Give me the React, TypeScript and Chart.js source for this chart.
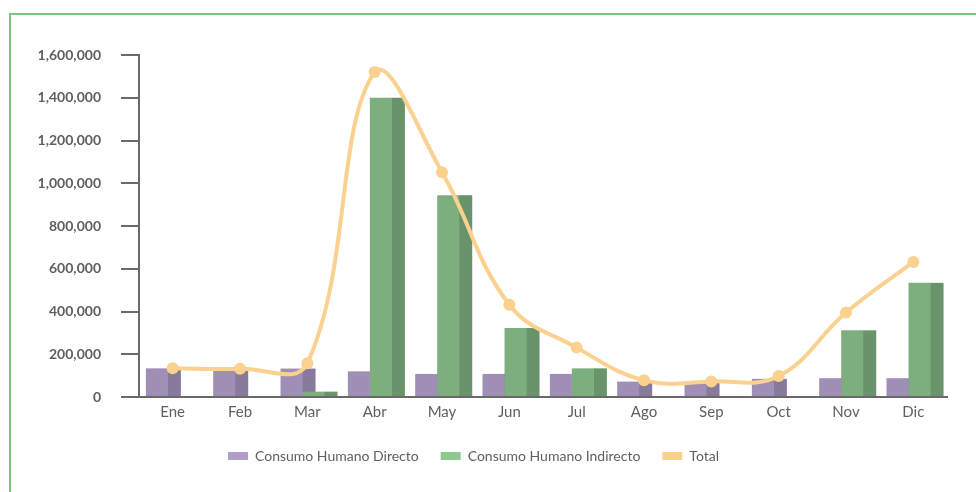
import React, { useEffect, useRef } from "react";
import { Chart, registerables } from "chart.js";

Chart.register(...registerables);

const months = ["Ene", "Feb", "Mar", "Abr", "May", "Jun", "Jul", "Ago", "Sep", "Oct", "Nov", "Dic"];
const directo = [134000, 132000, 133000, 120000, 108000, 108000, 108000, 72000, 72000, 85000, 88000, 88000];
const indirecto = [0, 0, 25000, 1400000, 944000, 323000, 134000, 0, 0, 0, 312000, 534000];
const total = [134000, 132000, 158000, 1520000, 1052000, 432000, 231000, 78000, 73000, 98000, 395000, 632000];
const yTicks = [0, 200000, 400000, 600000, 800000, 1000000, 1200000, 1400000, 1600000];

const seriesNames = ["Consumo Humano Directo", "Consumo Humano Indirecto", "Total"];
const legendColors = ["#b09fcc", "#8fc98f", "#fad18f"];
const frontColors = ["#9f8fb6", "#7daf7e"];
const sideColors = ["#877a9c", "#69946b"];
const lineColor = "#fad18f";

const FONT = "Lato, 'Open Sans', sans-serif";
const TEXT = "#5f5f5f";

const barShift = -4.8;
const depth = 13;

const bar3d = {
  id: "bar3d",
  afterDatasetsUpdate(chart: any) {
    chart.data.datasets.forEach((ds: any, i: number) => {
      const meta = chart.getDatasetMeta(i);
      if (meta.type !== "bar") return;
      meta.data.forEach((el: any) => {
        el.x = el.x + barShift;
      });
    });
  },
  beforeDatasetsDraw(chart: any) {
    const ctx = chart.ctx;
    ctx.save();
    chart.data.datasets.forEach((ds: any, i: number) => {
      const meta = chart.getDatasetMeta(i);
      if (meta.type !== "bar") return;
      ctx.fillStyle = sideColors[i];
      meta.data.forEach((el: any) => {
        const h = el.base - el.y;
        if (h <= 0.5) return;
        ctx.fillRect(el.x + el.width / 2 - 0.5, el.y, depth + 0.5, h);
      });
    });
    ctx.restore();
  },
};

export default function App() {
  const ref = useRef<HTMLCanvasElement>(null);
  useEffect(() => {
    if (!ref.current) return;
    const chart = new Chart(ref.current, {
      type: "bar",
      data: {
        labels: months,
        datasets: [
          {
            type: "bar",
            label: seriesNames[0],
            data: directo,
            backgroundColor: frontColors[0],
            order: 2,
            categoryPercentage: 0.654,
            barPercentage: 1,
          },
          {
            type: "bar",
            label: seriesNames[1],
            data: indirecto,
            backgroundColor: frontColors[1],
            order: 2,
            categoryPercentage: 0.654,
            barPercentage: 1,
          },
          {
            type: "line",
            label: seriesNames[2],
            data: total,
            borderColor: lineColor,
            backgroundColor: lineColor,
            borderWidth: 4,
            pointRadius: 6,
            pointBackgroundColor: lineColor,
            pointBorderWidth: 0,
            tension: 0.4,
            order: 1,
          },
        ],
      } as any,
      plugins: [bar3d],
      options: {
        animation: false,
        responsive: false,
        events: [],
        layout: { padding: { top: 55, right: 29, bottom: 19, left: 0 } },
        plugins: {
          tooltip: { enabled: false },
          legend: {
            position: "bottom",
            labels: {
              font: { family: FONT, size: 14 },
              color: TEXT,
              boxWidth: 20,
              boxHeight: 8,
              padding: 22,
              generateLabels: () =>
                seriesNames.map((n, i) => ({
                  text: n,
                  fillStyle: legendColors[i],
                  strokeStyle: legendColors[i],
                  lineWidth: 0,
                  hidden: false,
                  datasetIndex: i,
                  fontColor: TEXT,
                })),
            },
          },
        },
        scales: {
          x: {
            grid: { display: false, drawTicks: false },
            border: { color: "#6a6a6a", width: 2 },
            ticks: { font: { family: FONT, size: 15 }, color: TEXT, padding: 6 },
            afterFit: (s: any) => {
              s.height = 30;
            },
          },
          y: {
            min: 0,
            max: 1600000,
            afterBuildTicks: (s: any) => {
              s.ticks = yTicks.map((v) => ({ value: v }));
            },
            afterFit: (s: any) => {
              s.width = 139;
            },
            grid: {
              drawOnChartArea: false,
              drawTicks: true,
              tickLength: 18,
              color: "#6a6a6a",
              lineWidth: 2,
            },
            border: { color: "#6a6a6a", width: 2 },
            ticks: {
              padding: 20,
              font: { family: FONT, size: 14, weight: "bold" },
              color: TEXT,
              callback: (v: any) => Number(v).toLocaleString("en-US"),
            },
          },
        },
      },
    });
    return () => chart.destroy();
  }, []);

  return (
    <div
      style={{
        position: "fixed",
        left: 0,
        top: 0,
        width: 976,
        height: 492,
        overflow: "hidden",
        background: "#fff",
      }}
    >
      <div
        style={{
          position: "absolute",
          left: 9,
          top: 13,
          width: 1100,
          height: 600,
          borderLeft: "2px solid #7dc383",
          borderTop: "2px solid #7dc383",
        }}
      />
      <canvas
        ref={ref}
        width={976}
        height={492}
        style={{ position: "absolute", left: 0, top: 0, width: 976, height: 492 }}
      />
    </div>
  );
}
